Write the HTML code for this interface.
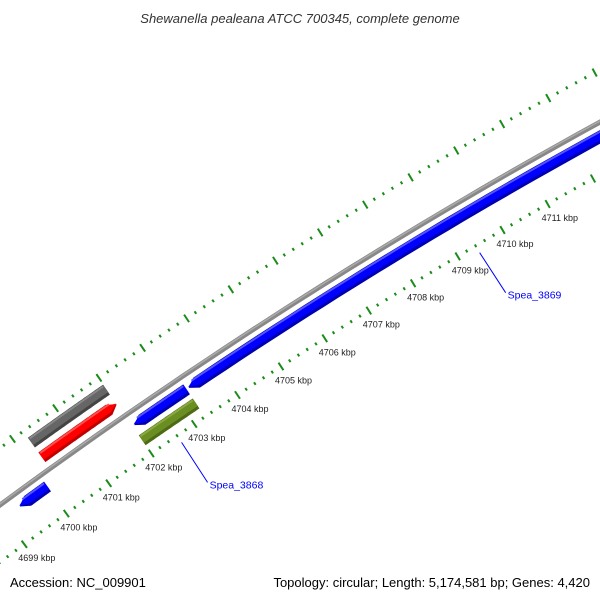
<!DOCTYPE html>
<html><head><meta charset="utf-8"><style>
body{margin:0;background:#fff}
svg{display:block;font-family:"Liberation Sans",sans-serif}
</style></head><body>
<svg id="map" width="600" height="600" viewBox="0 0 600 600" xmlns="http://www.w3.org/2000/svg">
<rect width="600" height="600" fill="#fff"/>
<text x="300" y="23" text-anchor="middle" font-size="13" font-style="italic" fill="#333">Shewanella pealeana ATCC 700345, complete genome</text>
<g id="plot"></g>
<text x="10" y="587" font-size="13" fill="#000">Accession: NC_009901</text>
<text x="590" y="587" text-anchor="end" font-size="13" fill="#000">Topology: circular; Length: 5,174,581 bp; Genes: 4,420</text>
</svg>
<script>
const majorTicks=[4697,4698,4699,4700,4701,4702,4703,4704,4705,4706,4707,4708,4709,4710,4711,4712,4713,4714];
const tickLabels=["4699 kbp","4700 kbp","4701 kbp","4702 kbp","4703 kbp","4704 kbp","4705 kbp","4706 kbp","4707 kbp","4708 kbp","4709 kbp","4710 kbp","4711 kbp"];
const labelKbp=[4699,4700,4701,4702,4703,4704,4705,4706,4707,4708,4709,4710,4711];
const featureNames=["gray-feature","red-feature","blue-feature-1","blue-feature-2","blue-feature-3","green-feature"];
const featureStart=[4700.25,4700.25,4699.36,4702.04,4703.3,4702.0];
const featureEnd=[4701.99,4701.99,4700.01,4703.25,4716,4703.25];
const featureStrand=[0,1,-1,-1,-1,0];
const geneLabels=["Spea_3868","Spea_3869"];
const geneLabelKbp=[4702.6,4709.4];

const CX=3173,CY=4815,A0=-126.40,DEG=0.5620,K0=4699;
const R={upperTicks:5398,gray:5384,red:5366,backbone:5352,blue:5339,green:5322,lowerTicks:5306};
const featRadius=[R.gray,R.red,R.blue,R.blue,R.blue,R.green];
const featColor=[["#888","#666","#444"],["#ff5050","#ff0000","#c00000"],["#5555ff","#0000ff","#0000b0"],["#5555ff","#0000ff","#0000b0"],["#5555ff","#0000ff","#0000b0"],["#8aaa40","#6b8e23","#4d6a14"]];
const NS="http://www.w3.org/2000/svg";
const plot=document.getElementById('plot');
function ang(k){return (A0+DEG*(k-K0))*Math.PI/180;}
function pt(r,k){const a=ang(k);return [CX+r*Math.cos(a),CY+r*Math.sin(a)];}
function el(t,attrs){const e=document.createElementNS(NS,t);for(const k in attrs)e.setAttribute(k,attrs[k]);plot.appendChild(e);return e;}
function arcPath(r,k1,k2){let d="";const n=60;for(let i=0;i<=n;i++){const p=pt(r,k1+(k2-k1)*i/n);d+=(i?"L":"M")+p[0].toFixed(1)+" "+p[1].toFixed(1);}return d;}

// backbone
const bb=el('path',{d:arcPath(R.backbone,4697,4716),stroke:'#888',"stroke-width":5,fill:'none'});


const bb2=el('path',{d:arcPath(R.backbone+1,4697,4716),stroke:'#aaa',"stroke-width":1.5,fill:'none'});



// ticks
[R.upperTicks,R.lowerTicks].forEach((r,ri)=>{
  majorTicks.forEach(k=>{
    for(let j=0;j<5;j++){
      const kk=k+j*0.2;const len=j===0?4.5:1.5;
      const p1=pt(r-len,kk),p2=pt(r+len,kk);
      const t=el('line',{x1:p1[0],y1:p1[1],x2:p2[0],y2:p2[1],stroke:'#1a8c1a',"stroke-width":2});
      
      
    }
  });
});
labelKbp.forEach((k,i)=>{
  const p=pt(R.lowerTicks,k);
  const t=el('text',{x:(p[0]-6).toFixed(1),y:(p[1]+17).toFixed(1),"font-size":9,fill:'#222'});
  t.textContent=tickLabels[i];
  
  
});

// features
function band(r,k1,k2,strand,w){
  const h=w/2,tip=0.18;let a=k1,b=k2;
  let outer=[],inner=[];const n=40;
  const s=strand<0?a+tip:a,e=strand>0?b-tip:b;
  for(let i=0;i<=n;i++){const k=s+(e-s)*i/n;outer.push(pt(r+h,k));}
  for(let i=n;i>=0;i--){const k=s+(e-s)*i/n;inner.push(pt(r-h,k));}
  let pts=[];
  if(strand<0){pts.push(pt(r,a));}
  pts=pts.concat(outer);
  if(strand>0){pts.push(pt(r,b));}
  pts=pts.concat(inner);
  return pts.map(p=>p[0].toFixed(1)+","+p[1].toFixed(1)).join(" ");
}
featureNames.forEach((nm,i)=>{
  const r=featRadius[i],c=featColor[i];
  const g=el('polygon',{points:band(r,featureStart[i],featureEnd[i],featureStrand[i],12),fill:c[2]});
  
  
  const g2=el('polygon',{points:band(r+1,featureStart[i],featureEnd[i],featureStrand[i],8),fill:c[1]});
  
  
  const g3=el('path',{d:arcPath(r+4.5,featureStart[i]+(featureStrand[i]<0?0.12:0.02),featureEnd[i]-(featureStrand[i]>0?0.12:0.02)),stroke:c[0],"stroke-width":2,fill:'none'});
  
  
});

// gene labels
geneLabels.forEach((nm,i)=>{
  const p=pt(R.lowerTicks-8,geneLabelKbp[i]);
  const q=[p[0]+26,p[1]+40];
  const l=el('line',{x1:p[0],y1:p[1],x2:q[0],y2:q[1],stroke:'#0000ff',"stroke-width":1});
  
  
  const t=el('text',{x:q[0]+2,y:q[1]+6,"font-size":10.5,fill:'#0000ff'});
  t.textContent=nm;
  
  
});
</script>
</body></html>
